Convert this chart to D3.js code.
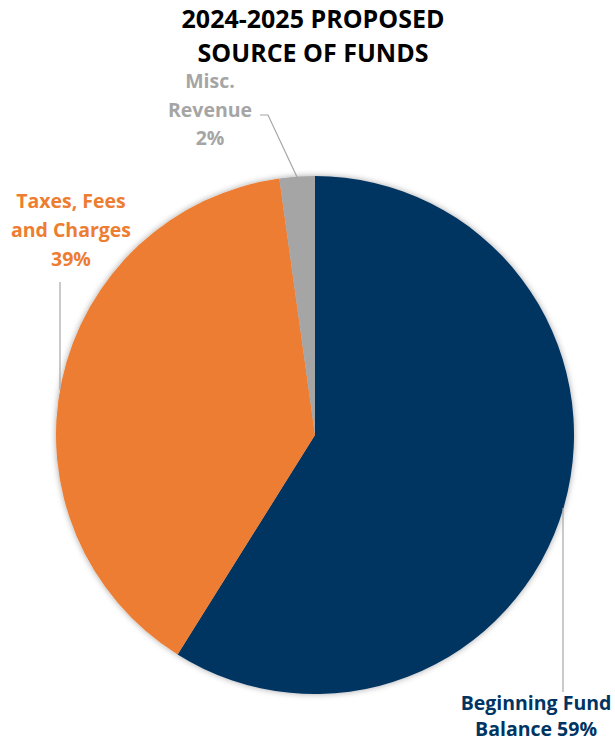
<!DOCTYPE html>
<html>
<head>
<meta charset="utf-8">
<script src="https://cdn.jsdelivr.net/npm/d3@7"></script>
<style>
  html, body { margin: 0; padding: 0; background: #fff; }
  svg { display: block; font-family: "Open Sans", Lato, sans-serif; }
</style>
</head>
<body>
<svg id="chart" width="615" height="743"></svg>
<script>
const titleLines = ["2024-2025 PROPOSED", "SOURCE OF FUNDS"];
const categories = ["Beginning Fund Balance", "Taxes, Fees and Charges", "Misc. Revenue"];
const values = [58.9, 38.9, 2.2];
const percentLabels = ["59%", "39%", "2%"];
const colors = ["#003462", "#ED7D31", "#A5A5A5"];

const svg = d3.select("#chart");
const cx = 315, cy = 435, R = 259;

const defs = svg.append("defs");
const f = defs.append("filter").attr("id", "shadow").attr("x", "-10%").attr("y", "-10%").attr("width", "120%").attr("height", "120%");
f.append("feDropShadow").attr("dx", 0).attr("dy", 0).attr("stdDeviation", 3).attr("flood-color", "#000").attr("flood-opacity", 0.35);

// title
const title = svg.append("text").attr("text-anchor", "middle")
  .attr("font-size", 25).attr("font-weight", 700).attr("fill", "#000");
title.selectAll("tspan").data(titleLines).join("tspan")
  .attr("x", 313).attr("y", (d, i) => 28 + i * 34).text(d => d);

const data = categories.map((c, i) => ({ name: c, value: values[i], label: percentLabels[i], color: colors[i] }));
const pie = d3.pie().sort(null).value(d => d.value);
const arcs = pie(data);
const arc = d3.arc().innerRadius(0).outerRadius(R);

const g = svg.append("g").attr("transform", `translate(${cx},${cy})`);
g.append("g").attr("filter", "url(#shadow)")
  .selectAll("path").data(arcs).join("path")
  .attr("d", arc).attr("fill", d => d.data.color);

// leader lines
const leaders = [
  [[563, 508], [563, 692]],
  [[60, 282], [60, 390]],
  [[260, 115], [268, 115], [297, 177]]
];
svg.append("g").selectAll("path").data(leaders).join("path")
  .attr("d", d => d3.line()(d))
  .attr("fill", "none").attr("stroke", "#A6A6A6").attr("stroke-width", 1.2);

// labels
const labelSpecs = [
  { lines: ["Beginning Fund", "Balance 59%"], x: 536, y: 710, dy: 26 },
  { lines: ["Taxes, Fees", "and Charges", "39%"], x: 71, y: 208, dy: 29 },
  { lines: ["Misc.", "Revenue", "2%"], x: 210, y: 88, dy: 28.5 }
];
labelSpecs.forEach((s, i) => {
  const t = svg.append("text").attr("text-anchor", "middle")
    .attr("font-size", 19.5).attr("font-weight", 700).attr("fill", colors[i]);
  t.selectAll("tspan").data(s.lines).join("tspan")
    .attr("x", s.x).attr("y", (d, j) => s.y + j * s.dy).text(d => d);
});
</script>
</body>
</html>
